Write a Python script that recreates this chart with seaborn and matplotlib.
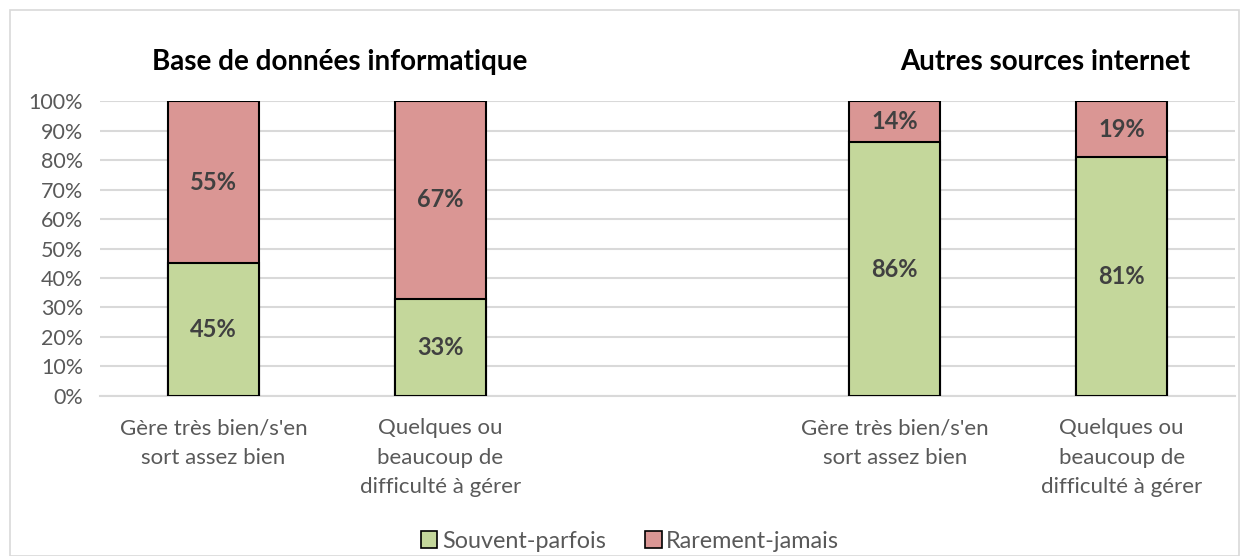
import pandas as pd
import numpy as np
import matplotlib.pyplot as plt
import seaborn as sns
from matplotlib.patches import Rectangle

# data
slots = [0, 1, 2, 3, 4]  # slot 2 left empty between the two groups
bar_slots = [0, 1, 3, 4]
souvent = [45, 33, 86, 81]
rarement = [55, 67, 14, 19]
labels = ["Gère très bien/s'en\nsort assez bien",
          "Quelques ou\nbeaucoup de\ndifficulté à gérer",
          "",
          "Gère très bien/s'en\nsort assez bien",
          "Quelques ou\nbeaucoup de\ndifficulté à gérer"]
titles = ["Base de données informatique", "Autres sources internet"]
series = ["Souvent-parfois", "Rarement-jamais"]

green = '#C4D79B'
red = '#DA9694'

df = pd.DataFrame({'slot': bar_slots, 'souvent': souvent, 'rarement': rarement})
df['total'] = df['souvent'] + df['rarement']

sns.set_theme(style='white')
plt.rcParams['font.family'] = ['Lato', 'DejaVu Sans']

fig = plt.figure(figsize=(12.49, 5.56), dpi=100)
ax = fig.add_axes([0.080, 0.288, 0.909, 0.530])

sns.barplot(data=df, x='slot', y='total', order=slots, color=red, width=0.4,
            edgecolor='black', linewidth=1.5, saturation=1, ax=ax, zorder=3)
sns.barplot(data=df, x='slot', y='souvent', order=slots, color=green, width=0.4,
            edgecolor='black', linewidth=1.5, saturation=1, ax=ax, zorder=3)

ax.set_ylim(0, 100)
ax.set_yticks(np.arange(0, 101, 10))
ax.set_yticklabels([f'{v}%' for v in range(0, 101, 10)], fontsize=15.5, color='#595959')
ax.set_xticks(slots)
ax.set_xticklabels(labels, fontsize=16, color='#595959', linespacing=1.6)
ax.tick_params(axis='both', length=0)
ax.tick_params(axis='x', pad=16)
ax.tick_params(axis='y', pad=12)
ax.set_xlabel('')
ax.set_ylabel('')
ax.grid(axis='y', color='#d9d9d9', linewidth=1.5, zorder=0)
for s in ['top', 'right', 'left']:
    ax.spines[s].set_visible(False)
ax.spines['bottom'].set_color('#d9d9d9')
ax.spines['bottom'].set_linewidth(1.5)
ax.spines['bottom'].set_zorder(1)

# value labels
for i, sl in enumerate(bar_slots):
    ax.text(sl, souvent[i] / 2, f'{souvent[i]}%', ha='center', va='center',
            fontsize=17, fontweight='bold', color='#404040', zorder=5)
    ax.text(sl, souvent[i] + rarement[i] / 2, f'{rarement[i]}%', ha='center', va='center',
            fontsize=17, fontweight='bold', color='#404040', zorder=5)

# group titles
fig.text(340 / 1249, 1 - 62 / 556, titles[0], ha='center', va='center',
         fontsize=20, fontweight='bold', color='black')
fig.text(1045 / 1249, 1 - 62 / 556, titles[1], ha='center', va='center',
         fontsize=20, fontweight='bold', color='black')

# legend
handles = [Rectangle((0, 0), 1, 1, facecolor=green, edgecolor='black', linewidth=1.2),
           Rectangle((0, 0), 1, 1, facecolor=red, edgecolor='black', linewidth=1.2)]
leg = fig.legend(handles, series, loc='center', bbox_to_anchor=(630 / 1249, 1 - 541 / 556),
                 ncol=2, frameon=False, fontsize=16.8, handlelength=0.7, handleheight=0.7,
                 handletextpad=0.2, columnspacing=1.7)
for t in leg.get_texts():
    t.set_color('#595959')

# chart border
fig.patches.append(Rectangle((10 / 1249, 0), 1 - 20 / 1249, 1 - 10 / 556,
                             transform=fig.transFigure, fill=False,
                             edgecolor='#d9d9d9', linewidth=1.2))

fig.savefig('out.png', dpi=100)
